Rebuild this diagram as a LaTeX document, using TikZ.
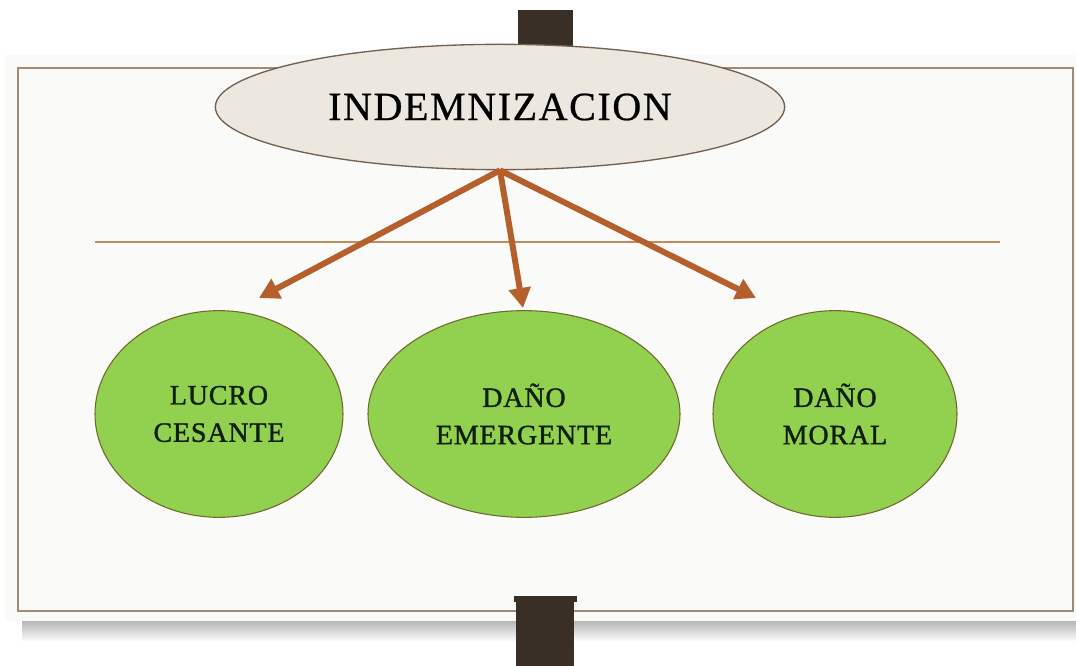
\documentclass[tikz,border=0pt]{standalone}
\usepackage{fontspec}
\setmainfont{Liberation Serif}
\usetikzlibrary{shapes.geometric,arrows.meta}
\definecolor{PanelGray}{HTML}{FAFAF9}
\definecolor{FrameBrown}{HTML}{A38A74}
\definecolor{PostBrown}{HTML}{3A2F27}
\definecolor{ArrowBrown}{HTML}{B5602C}
\definecolor{RuleBrown}{HTML}{C48A5C}
\definecolor{TitleBeige}{HTML}{ECE7DF}
\definecolor{LeafGreen}{HTML}{92D050}
\definecolor{LeafEdge}{HTML}{6E6A2A}
\definecolor{LeafText}{HTML}{0F1F0A}

\tikzset{
  titulo/.style={ellipse, draw=FrameBrown!70!black, line width=1pt, fill=TitleBeige,
    inner sep=0pt, minimum width=427pt, minimum height=94pt,
    font=\fontsize{30}{36}\selectfont\addfontfeature{LetterSpace=4,FakeBold=0.6}},
  hoja/.style={ellipse, draw=LeafEdge, line width=0.8pt, fill=LeafGreen,
    inner sep=0pt, minimum height=155pt, align=center, text=LeafText,
    font=\fontsize{21}{28}\selectfont\addfontfeature{LetterSpace=3,FakeBold=1.2}},
  flecha/.style={draw=ArrowBrown, line width=4.5pt, -{Triangle[length=15pt,width=16pt]}}
}

\begin{document}
\begin{tikzpicture}[x=0.75pt,y=-0.75pt]
    \useasboundingbox (0,0) rectangle (1076,666);
    % panel and its shadow
    \shade[top color=black!35, bottom color=white] (22,616) rectangle (1076,642);
    \fill[PanelGray] (5,55) rectangle (1076,621);
    \draw[FrameBrown, line width=1.5pt] (18,68) rectangle (1073,611);
    % posts
    \fill[PostBrown] (518,10) rectangle (573,60);
    \fill[PostBrown] (516,598) rectangle (574,666);
    \fill[PostBrown] (514,596) rectangle (577,602);
    % rule
    \draw[RuleBrown, line width=1.5pt] (95,242) -- (1000,242);
    \node[titulo] (indem) at (500,107) {INDEMNIZACION};
    \foreach \name/\cx/\ancho/\tx/\ty/\texto in {%
      lucro/219/186/259/298/{LUCRO\\CESANTE},
      emergente/524/234/523/308/{DAÑO\\EMERGENTE},
      moral/835/183/756/298/{DAÑO\\MORAL}} {
     \node[hoja, minimum width=\ancho pt] (\name) at (\cx,414) {\texto};
     \coordinate (\name-tip) at (\tx,\ty);
     \draw[flecha] (indem.south) -- (\name-tip);
    }
\end{tikzpicture}
\end{document}
